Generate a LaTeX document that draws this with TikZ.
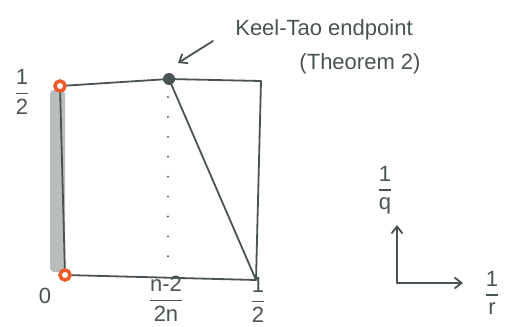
\documentclass[tikz,border=0pt]{standalone}
\usepackage{fontspec}
\setmainfont{Liberation Sans}
\usetikzlibrary{arrows.meta,positioning}
\definecolor{ink}{HTML}{4A5353}
\definecolor{hot}{HTML}{EE5A2A}
\definecolor{bargray}{HTML}{B9BEBD}
\newcommand{\hfr}[2]{$\displaystyle{\mbox{#1}\above 1.6pt\mbox{#2}}$}

\begin{document}
\begin{tikzpicture}[
  x=1pt, y=-1pt,
  pen/.style={draw=ink, line width=1.8pt, line cap=round, line join=round},
  ring/.style={circle, draw=hot, line width=3.5pt, fill=white, inner sep=0pt,
               minimum size=10pt},
  blob/.style={circle, fill=ink, inner sep=0pt, minimum size=12pt},
  lbl/.style={text=ink, font=\fontsize{22}{24}\selectfont, inner sep=0pt},
  note/.style={text=ink, font=\fontsize{22}{24}\selectfont, inner sep=0pt},
  arr/.style={pen, -{Straight Barb[length=7pt,width=11pt]}}
]
\useasboundingbox (0,0) rectangle (505,326);

% the square
\coordinate (tr) at (261,81);
\coordinate (br) at (256,280);
\coordinate (dotend) at (168,268);
\fill[bargray, rounded corners=4pt] (50,90) rectangle (65,272);
\node[blob] (kt) at (169,79) {};
\draw[pen] (60,86) -- (kt.center) -- (tr) -- (br) -- (65,275);
\draw[pen] (60,86) -- (65,275);
\draw[pen] (kt.center) -- (br);
\draw[ink, line width=2pt, line cap=round, dash pattern=on 0.1pt off 19.8pt]
  (168,97) -- (dotend);
\node[ring] (tl) at (60,86) {};
\node[ring] (bl) at (65,275) {};

% labels on the axes of the square
\node[lbl] (half1) at (22,92) {\hfr{1}{2}};
\node[lbl] (zero)  at (45,296) {0};
\node[lbl] (mid)   at (166,299) {\hfr{n-2}{2n}};
\node[lbl] (half2) at (258,300) {\hfr{1}{2}};

% note and pointer
\node[note] (kte) at (324,30) {Keel-Tao endpoint};
\node[note] (thm) at (360,64) {(Theorem 2)};
\coordinate (ptr) at (213,41);
\draw[arr] (ptr) -- (178,63);

% small axes
\coordinate (o) at (397,283);
\coordinate (qtip) at (397,225);
\coordinate (rtip) at (463,283);
\draw[arr] (o) -- (qtip);
\draw[arr] (o) -- (rtip);
\node[lbl] (q) at (385,190) {\hfr{1}{q}};
\node[lbl] (r) at (492,293) {\hfr{1}{r}};
\end{tikzpicture}
\end{document}
